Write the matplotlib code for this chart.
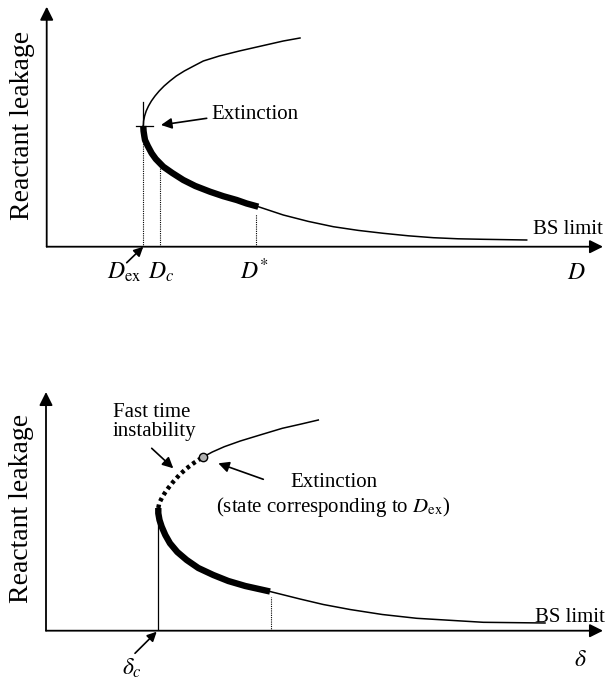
import matplotlib
matplotlib.use("Agg")
import matplotlib.pyplot as plt

plt.rcParams['font.family'] = ['Liberation Serif', 'DejaVu Serif']
plt.rcParams['mathtext.fontset'] = 'stix'

# ---------------- data (arbitrary axis units) ----------------
# Top panel: reactant leakage vs D
top_upper_x = [96.6, 96.9, 97.9, 99.5, 101.8, 104.7, 108.3, 112.5, 117.4, 123.2,
               129.6, 137.6, 147.0, 156.6, 172.6, 192.6, 214.6, 236.6, 253.3]
top_upper_y = [120.7, 125.7, 130.7, 135.7, 140.7, 145.7, 150.7, 155.7, 160.7, 165.7,
               170.7, 175.7, 180.7, 185.7, 190.7, 195.7, 200.7, 205.7, 208.7]
top_lower_x = [96.6, 96.85, 97.6, 98.3, 101.1, 105.0, 109.1, 116.6, 125.6, 136.6,
               148.6, 163.3, 176.6, 190.0, 200.0, 211.6, 236.6, 261.6, 286.6, 311.6,
               336.6, 361.6, 386.6, 411.6, 436.6, 480.0]
top_lower_y = [120.7, 115.7, 110.7, 106.7, 100.7, 93.4, 87.7, 80.0, 73.7, 66.7,
               60.7, 55.0, 50.5, 46.7, 43.2, 40.0, 31.7, 25.3, 20.0, 16.3,
               13.4, 10.9, 9.0, 7.9, 7.4, 6.7]
top_thick_n = 16          # stable (thick) part of the lower branch
D_ex, D_c, D_star = 96.6, 113.3, 209.0
D_c_top, D_star_top = 80.0, 32.7
top_xlabels = [r'$D_{\mathrm{ex}}$', r'$D_c$', r'$D^{*}$', r'$D$']

# Bottom panel: reactant leakage vs delta
bot_upper_x = [112.3, 113.3, 115.8, 118.8, 122.3, 127.3, 133.3, 140.7, 147.8, 156.7,
               166.3, 178.3, 194.3, 214.0, 236.3, 255.3, 272.3]
bot_upper_y = [122.7, 127.7, 132.7, 137.7, 142.7, 149.0, 155.7, 162.4, 167.7, 173.5,
               178.7, 184.0, 189.7, 195.7, 202.4, 206.7, 210.7]
bot_dot_n = 10            # fast time instability part (dotted), ends at extinction state
bot_lower_x = [112.3, 112.3, 113.5, 115.7, 119.3, 124.0, 131.3, 140.7, 152.3, 167.3,
               182.3, 199.3, 224.0, 254.0, 277.3, 304.0, 336.3, 370.7, 437.3, 499.0]
bot_lower_y = [122.7, 117.4, 110.7, 104.0, 95.7, 87.4, 78.7, 70.7, 62.7, 55.7,
               49.7, 44.7, 39.2, 31.7, 26.2, 21.2, 16.2, 12.4, 8.4, 7.7]
bot_thick_n = 13
delta_c, delta_star = 112.3, 224.7
delta_c_top, delta_star_top = 120.7, 34.0

fig = plt.figure(figsize=(6.08, 6.81), dpi=100)
ax1 = fig.add_axes([46.7 / 608, (681 - 246.7) / 681, 556.3 / 608, 240 / 681])
ax2 = fig.add_axes([46.0 / 608, (681 - 630.7) / 681, 557.0 / 608, 238.7 / 681])
ax1.set_xlim(0, 556.3)
ax1.set_ylim(0, 240)
ax2.set_xlim(0, 557.0)
ax2.set_ylim(0, 238.7)

thin = 1.1
thick = 4.6
arrow_kw = dict(arrowstyle='-|>', lw=1.2, color='black', shrinkA=0, shrinkB=0)

for ax, ycen in ((ax1, 0.507), (ax2, 0.514)):
    ax.axis('off')
    x1, y1 = ax.get_xlim()[1], ax.get_ylim()[1]
    ax.annotate('', xy=(x1, 0), xytext=(0, 0),
                arrowprops=dict(arrowstyle='-|>', lw=1.3, color='black',
                                mutation_scale=20, shrinkA=0, shrinkB=0),
                annotation_clip=False)
    ax.annotate('', xy=(0, y1), xytext=(0, 0),
                arrowprops=dict(arrowstyle='-|>', lw=1.3, color='black',
                                mutation_scale=20, shrinkA=0, shrinkB=0),
                annotation_clip=False)
    ax.text(-0.044, ycen, 'Reactant leakage', transform=ax.transAxes,
            rotation=90, ha='center', va='center', fontsize=20)

# ---- top panel ----
ax1.plot(top_upper_x, top_upper_y, color='black', lw=thin)
ax1.plot(top_lower_x, top_lower_y, color='black', lw=thin)
ax1.plot(top_lower_x[:top_thick_n], top_lower_y[:top_thick_n], color='black',
         lw=thick, solid_capstyle='butt')
# extinction cross
ax1.plot([D_ex, D_ex], [top_upper_y[0], 145.0], color='black', lw=0.9)
ax1.plot([89.3, 106.0], [top_upper_y[0], top_upper_y[0]], color='black', lw=0.9)
# dotted drop lines
ax1.plot([D_ex, D_ex], [0, top_upper_y[0]], color='black', lw=0.8, ls=(0, (1, 1)))
ax1.plot([D_c, D_c], [0, D_c_top], color='black', lw=0.8, ls=(0, (1, 1)))
ax1.plot([D_star, D_star], [0, D_star_top], color='black', lw=0.8, ls=(0, (1, 1)))

ax1.text(165.0, 132.0, 'Extinction', fontsize=15, ha='left', va='center')
ax1.annotate('', xy=(114.3, 121.7), xytext=(160.0, 128.4),
             arrowprops=dict(mutation_scale=16, **arrow_kw))
ax1.text(486.3, 17.0, 'BS limit', fontsize=15, ha='left', va='center')

ax1.text(77.3, -25.3, top_xlabels[0], fontsize=17, ha='center', va='center')
ax1.text(114.3, -25.3, top_xlabels[1], fontsize=17, ha='center', va='center')
ax1.text(208.3, -24.5, top_xlabels[2], fontsize=17, ha='center', va='center')
ax1.text(529.3, -26.5, top_xlabels[3], fontsize=17, ha='center', va='center')
ax1.annotate('', xy=(D_ex, 0), xytext=(80.0, -16.0),
             arrowprops=dict(mutation_scale=14, **arrow_kw), annotation_clip=False)

# ---- bottom panel ----
ax2.plot(bot_upper_x[bot_dot_n - 1:], bot_upper_y[bot_dot_n - 1:], color='black', lw=thin)
ax2.plot(bot_upper_x[:bot_dot_n], bot_upper_y[:bot_dot_n], color='black',
         lw=3.2, ls=(0, (0.8, 0.8)))
ax2.plot(bot_lower_x, bot_lower_y, color='black', lw=thin)
ax2.plot(bot_lower_x[:bot_thick_n], bot_lower_y[:bot_thick_n], color='black',
         lw=thick, solid_capstyle='butt')
ax2.plot([delta_c, delta_c], [0, delta_c_top], color='black', lw=0.9)
ax2.plot([delta_star, delta_star], [0, delta_star_top], color='black', lw=0.8,
         ls=(0, (1, 1)))
ax2.plot([bot_upper_x[bot_dot_n - 1]], [bot_upper_y[bot_dot_n - 1]], marker='o', ms=6,
         mfc='#b0b0b0', mec='black', mew=1.0, zorder=5)

ax2.text(67.0, 208.7, 'Fast time\ninstability', fontsize=15, ha='left',
         va='center', linespacing=0.95)
ax2.annotate('', xy=(127.3, 162.4), xytext=(105.7, 182.4),
             arrowprops=dict(mutation_scale=16, **arrow_kw))
ax2.text(288.0, 148.7, 'Extinction', fontsize=15, ha='center', va='center')
ax2.text(287.0, 123.7, r'(state corresponding to $D_{\mathrm{ex}}$)', fontsize=15,
         ha='center', va='center')
ax2.annotate('', xy=(172.3, 167.4), xytext=(217.3, 151.4),
             arrowprops=dict(mutation_scale=16, **arrow_kw))
ax2.text(489.0, 12.7, 'BS limit', fontsize=15, ha='left', va='center')
ax2.text(534.0, -29.3, r'$\delta$', fontsize=17, ha='center', va='center')
ax2.text(85.7, -37.3, r'$\delta_c$', fontsize=17, ha='center', va='center')
ax2.annotate('', xy=(110.7, -1.0), xytext=(89.0, -22.6),
             arrowprops=dict(mutation_scale=14, **arrow_kw), annotation_clip=False)

fig.savefig('out.png', dpi=100)
